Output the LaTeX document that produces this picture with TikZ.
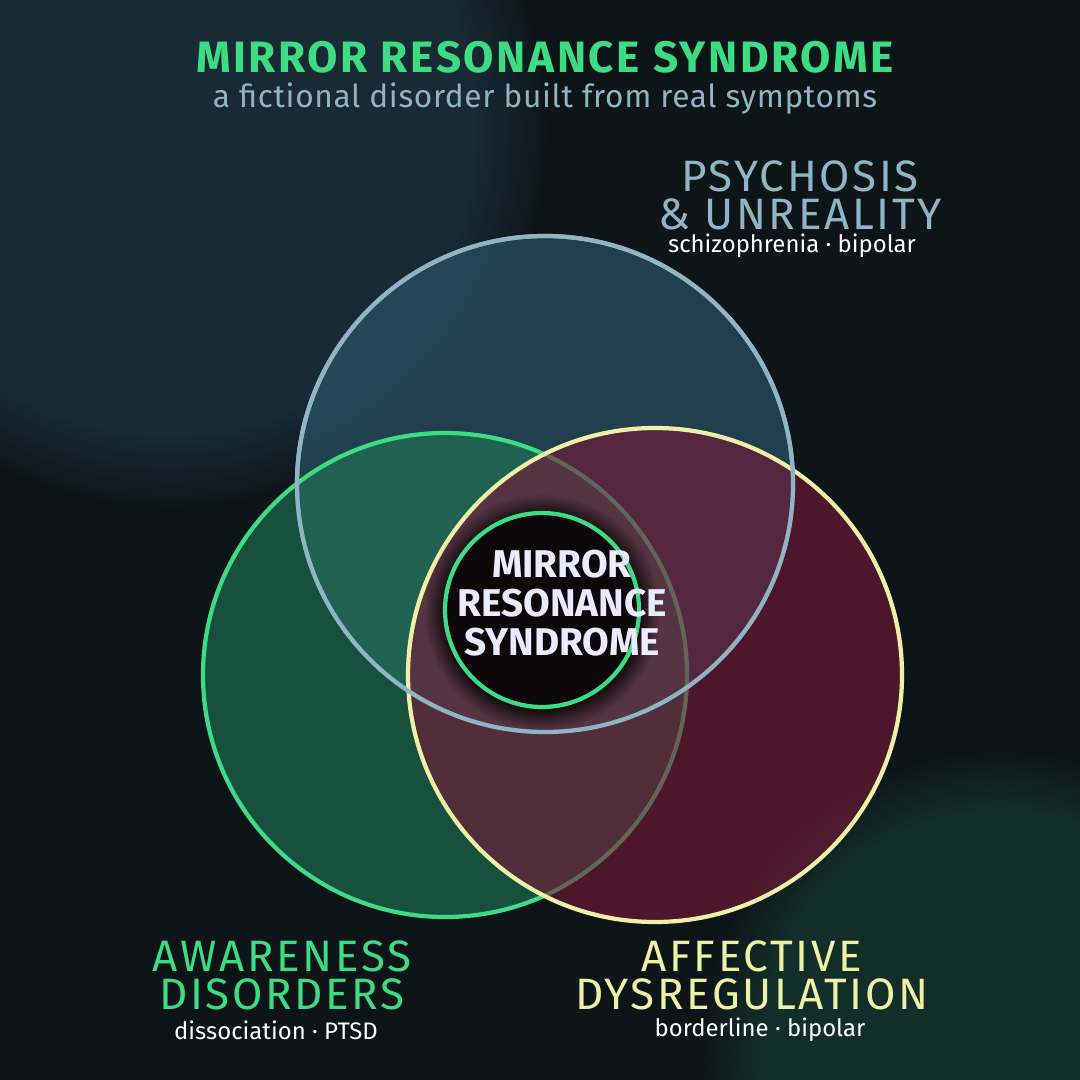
\documentclass[tikz,border=0pt]{standalone}
\usepackage{fontspec}
\setmainfont{Fira Sans}
\usetikzlibrary{fadings}
\definecolor{bg}{HTML}{0E1519}
\definecolor{tgreen}{HTML}{3DDC84}
\definecolor{tblue}{HTML}{8FB4C4}
\definecolor{tyellow}{HTML}{EEF0A8}
\definecolor{fblue}{HTML}{2F5C72}
\definecolor{fgreen}{HTML}{1E7A55}
\definecolor{fred}{HTML}{7A1838}
\tikzset{
 venn/.style={line width=1.2pt, fill opacity=0.6},
 cat/.style={align=center, font=\fontsize{12.5}{10.8}\selectfont\addfontfeature{LetterSpace=6}},
 sub/.style={text=white, font=\fontsize{6.8}{8}\selectfont},
}
\begin{document}
\begin{tikzpicture}[x=0.01cm,y=-0.01cm]
\useasboundingbox (0,0) rectangle (1080,1080);
\fill[bg] (0,0) rectangle (1080,1080);
\fill[fblue!60!bg, opacity=0.5, path fading=circle with fuzzy edge 20 percent] (170,130) circle (380);
\fill[fgreen!50!bg, opacity=0.5, path fading=circle with fuzzy edge 20 percent] (1000,1050) circle (300);
% circles
\draw[venn, fill=fblue, draw=tblue] (545,484) circle (248);
\draw[venn, fill=fgreen, draw=tgreen] (445,675) circle (242);
\draw[venn, fill=fred, draw=tyellow] (655,675) circle (247);
\draw[draw=tblue, line width=1.2pt] (545,484) circle (248);
\fill[black, opacity=0.85, path fading=circle with fuzzy edge 20 percent] (542,612) circle (118);
\draw[tgreen, line width=1.2pt] (542,610) circle (97);
\node[align=center, text=white!92!blue, font=\bfseries\fontsize{11}{11}\selectfont] (core) at (562,603) {MIRROR\\RESONANCE\\SYNDROME};
% titles
\node[text=tgreen, font=\bfseries\fontsize{12.5}{13}\selectfont\addfontfeature{LetterSpace=6}] (title) at (545,57) {MIRROR RESONANCE SYNDROME};
\node[text=tblue, font=\fontsize{9}{9}\selectfont\addfontfeature{LetterSpace=2}] (subt) at (545,99) {a fictional disorder built from real symptoms};
\node[cat, text=tblue] (psy) at (800,195) {PSYCHOSIS\\\& UNREALITY};
\node[sub] (psys) at (792,246) {schizophrenia · bipolar};
\node[cat, text=tgreen] (awa) at (282,975) {AWARENESS\\DISORDERS};
\node[sub] (awas) at (276,1030) {dissociation · PTSD};
\node[cat, text=tyellow] (aff) at (752,975) {AFFECTIVE\\DYSREGULATION};
\node[sub] (affs) at (760,1030) {borderline · bipolar};
\end{tikzpicture}
\end{document}
